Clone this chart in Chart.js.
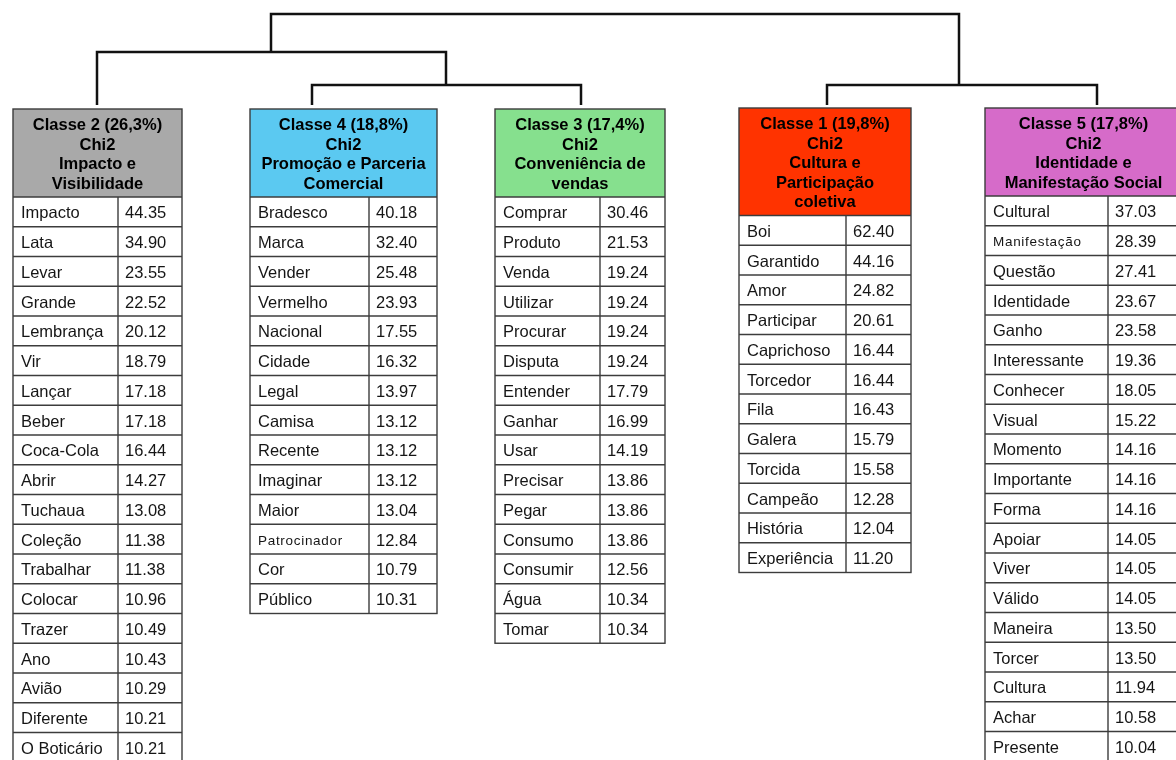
<!DOCTYPE html>
<html lang="pt-BR">
<head>
<meta charset="utf-8">
<title>Classificação Hierárquica Descendente</title>
<script src="https://cdn.jsdelivr.net/npm/chart.js@4.4.1/dist/chart.umd.min.js"></script>
<style>
  html, body { margin: 0; padding: 0; background: #fff; overflow: hidden; }
  #wrap { width: 1176px; height: 760px; }
</style>
</head>
<body>
<div id="wrap"><canvas id="dendro" width="1176" height="760"></canvas></div>
<script>
// Classes (ordem do dendrograma)
const classeNomes = ['Classe 2', 'Classe 4', 'Classe 3', 'Classe 1', 'Classe 5'];
const classePercent = ['26,3%', '18,8%', '17,4%', '19,8%', '17,8%'];
const classeTemas = [
    ['Impacto e', 'Visibilidade'],
    ['Promoção e Parceria', 'Comercial'],
    ['Conveniência de', 'vendas'],
    ['Cultura e', 'Participação', 'coletiva'],
    ['Identidade e', 'Manifestação Social']
];

// Palavras e Chi2 de cada classe
const classe2Palavras = ['Impacto', 'Lata', 'Levar', 'Grande', 'Lembrança', 'Vir', 'Lançar', 'Beber', 'Coca-Cola', 'Abrir',
    'Tuchaua', 'Coleção', 'Trabalhar', 'Colocar', 'Trazer', 'Ano', 'Avião', 'Diferente', 'O Boticário'];
const classe2Chi2 = [44.35, 34.90, 23.55, 22.52, 20.12, 18.79, 17.18, 17.18, 16.44, 14.27,
    13.08, 11.38, 11.38, 10.96, 10.49, 10.43, 10.29, 10.21, 10.21];

const classe4Palavras = ['Bradesco', 'Marca', 'Vender', 'Vermelho', 'Nacional', 'Cidade', 'Legal', 'Camisa', 'Recente',
    'Imaginar', 'Maior', 'Patrocinador', 'Cor', 'Público'];
const classe4Chi2 = [40.18, 32.40, 25.48, 23.93, 17.55, 16.32, 13.97, 13.12, 13.12, 13.12, 13.04, 12.84, 10.79, 10.31];

const classe3Palavras = ['Comprar', 'Produto', 'Venda', 'Utilizar', 'Procurar', 'Disputa', 'Entender', 'Ganhar', 'Usar',
    'Precisar', 'Pegar', 'Consumo', 'Consumir', 'Água', 'Tomar'];
const classe3Chi2 = [30.46, 21.53, 19.24, 19.24, 19.24, 19.24, 17.79, 16.99, 14.19, 13.86, 13.86, 13.86, 12.56, 10.34, 10.34];

const classe1Palavras = ['Boi', 'Garantido', 'Amor', 'Participar', 'Caprichoso', 'Torcedor', 'Fila', 'Galera', 'Torcida',
    'Campeão', 'História', 'Experiência'];
const classe1Chi2 = [62.40, 44.16, 24.82, 20.61, 16.44, 16.44, 16.43, 15.79, 15.58, 12.28, 12.04, 11.20];

const classe5Palavras = ['Cultural', 'Manifestação', 'Questão', 'Identidade', 'Ganho', 'Interessante', 'Conhecer', 'Visual',
    'Momento', 'Importante', 'Forma', 'Apoiar', 'Viver', 'Válido', 'Maneira', 'Torcer', 'Cultura', 'Achar', 'Presente'];
const classe5Chi2 = [37.03, 28.39, 27.41, 23.67, 23.58, 19.36, 18.05, 15.22, 14.16, 14.16, 14.16, 14.05, 14.05, 14.05,
    13.50, 13.50, 11.94, 10.58, 10.04];

const palavrasPorClasse = [classe2Palavras, classe4Palavras, classe3Palavras, classe1Palavras, classe5Palavras];
const chi2PorClasse = [classe2Chi2, classe4Chi2, classe3Chi2, classe1Chi2, classe5Chi2];

// Dendrograma: fusões (filho esquerdo, filho direito) por índice; índices >= 5 são fusões anteriores
const fusoes = [[1, 2], [0, 5], [3, 4], [6, 7]];

// ---- layout (posições em unidades da escala, não dados) ----
const caixas = [
    { x0: 13, xd: 118, x1: 182, top: 109, cor: '#a9a9a9', haste: 97 },
    { x0: 250, xd: 369, x1: 437, top: 109, cor: '#5bc9f1', haste: 312 },
    { x0: 495, xd: 600, x1: 665, top: 109, cor: '#86e08e', haste: 581 },
    { x0: 739, xd: 846, x1: 911, top: 108, cor: '#ff3300', haste: 827 },
    { x0: 985, xd: 1108, x1: 1182, top: 108, cor: '#d66bc9', haste: 1097 }
];
const alturaFusao = [85, 52, 85, 14];
const xFusao = [446, 271, 959, 615];
const fimHaste = 105;
const LINHA = 29.75;
const LINHA_TITULO = 19.5;
const FONTE = '"Liberation Sans", Arial, sans-serif';

// Monta as linhas do dendrograma
const nos = caixas.map(c => ({ x: c.haste, y: fimHaste }));
const dendroDatasets = fusoes.map((f, i) => {
    const a = nos[f[0]], b = nos[f[1]];
    const h = alturaFusao[i];
    nos.push({ x: xFusao[i], y: h });
    return {
        data: [{ x: a.x, y: a.y }, { x: a.x, y: h }, { x: b.x, y: h }, { x: b.x, y: b.y }],
        borderColor: '#111',
        borderWidth: 2.5,
        borderJoinStyle: 'miter',
        pointRadius: 0,
        fill: false,
        tension: 0
    };
});

const tabelasPlugin = {
    id: 'tabelas',
    afterDatasetsDraw(chart) {
        const { ctx, scales: { x, y } } = chart;
        ctx.save();
        caixas.forEach((c, k) => {
            const titulo = [classeNomes[k] + ' (' + classePercent[k] + ')', 'Chi2'].concat(classeTemas[k]);
            const fimTitulo = c.top + 10 + titulo.length * LINHA_TITULO;
            const x0 = x.getPixelForValue(c.x0), xd = x.getPixelForValue(c.xd), x1 = x.getPixelForValue(c.x1);
            const t0 = y.getPixelForValue(c.top), t1 = y.getPixelForValue(fimTitulo);

            // Cabeçalho
            ctx.fillStyle = c.cor;
            ctx.fillRect(x0, t0, x1 - x0, t1 - t0);
            ctx.fillStyle = '#000';
            ctx.font = 'bold 16.5px ' + FONTE;
            ctx.textAlign = 'center';
            ctx.textBaseline = 'middle';
            titulo.forEach((txt, i) => {
                ctx.fillText(txt, (x0 + x1) / 2, y.getPixelForValue(c.top + 16.5 + i * LINHA_TITULO));
            });

            // Linhas da tabela
            const palavras = palavrasPorClasse[k];
            const valores = chi2PorClasse[k];
            const fim = y.getPixelForValue(fimTitulo + palavras.length * LINHA);
            ctx.fillStyle = '#fff';
            ctx.fillRect(x0, t1, x1 - x0, fim - t1);

            ctx.strokeStyle = '#3c3c3c';
            ctx.lineWidth = 1.4;
            ctx.strokeRect(x0, t0, x1 - x0, fim - t0);
            ctx.beginPath();
            ctx.moveTo(xd, t1);
            ctx.lineTo(xd, fim);
            ctx.stroke();

            ctx.textAlign = 'left';
            palavras.forEach((p, i) => {
                const r0 = y.getPixelForValue(fimTitulo + i * LINHA);
                const rc = y.getPixelForValue(fimTitulo + (i + 0.5) * LINHA) + 2;
                ctx.beginPath();
                ctx.moveTo(x0, r0);
                ctx.lineTo(x1, r0);
                ctx.stroke();

                ctx.fillStyle = '#151515';
                ctx.font = '16.5px ' + FONTE;
                ctx.letterSpacing = '0px';
                if (ctx.measureText(p).width > 92) {
                    ctx.font = '13.5px ' + FONTE;
                    ctx.letterSpacing = '0.7px';
                }
                ctx.fillText(p, x0 + 8, rc);
                ctx.font = '16.5px ' + FONTE;
                ctx.letterSpacing = '0px';
                ctx.fillText(valores[i].toFixed(2), xd + 7, rc);
            });
        });
        ctx.restore();
    }
};

const ctx = document.getElementById('dendro').getContext('2d');
new Chart(ctx, {
    type: 'line',
    data: { datasets: dendroDatasets },
    options: {
        responsive: false,
        animation: false,
        layout: { padding: 0 },
        plugins: { legend: { display: false }, tooltip: { enabled: false } },
        scales: {
            x: { type: 'linear', min: 0, max: 1176, display: false },
            y: { type: 'linear', min: 0, max: 760, reverse: true, display: false }
        }
    },
    plugins: [tabelasPlugin]
});
</script>
</body>
</html>
